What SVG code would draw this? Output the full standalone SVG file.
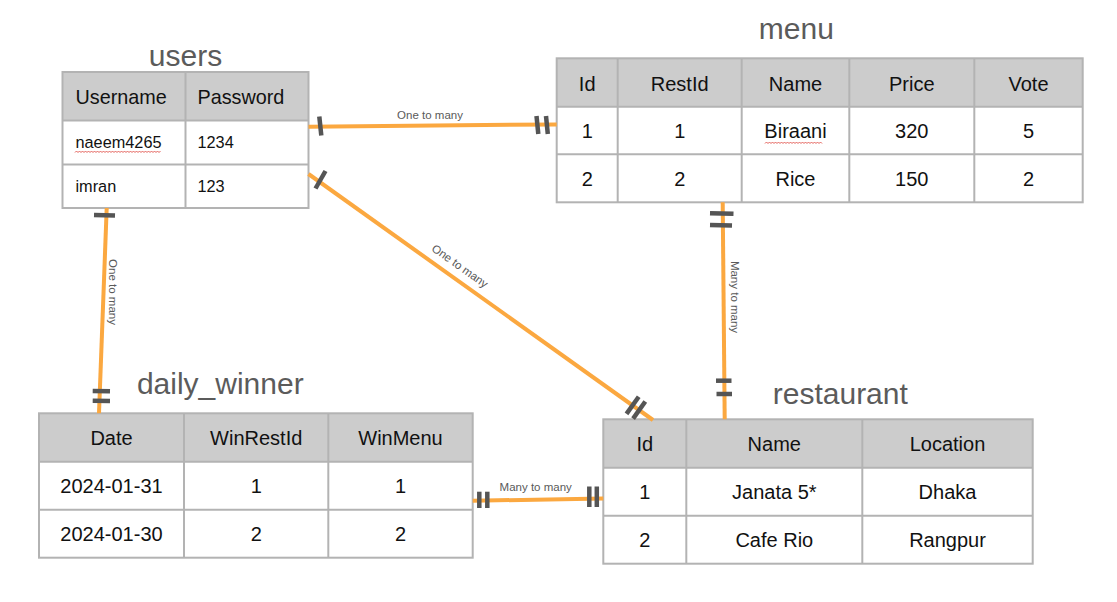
<svg xmlns="http://www.w3.org/2000/svg" width="1117" height="602" viewBox="0 0 1117 602">
<style>
.bg{fill:#ffffff}
.hdr{fill:#cccccc}
.frame{fill:none;stroke:#b3b3b3;stroke-width:2}
.grid{stroke:#b3b3b3;stroke-width:2}
.title{font-family:"Liberation Sans",Arial,sans-serif;font-size:30px;fill:#5b5b5b;text-anchor:middle}
.cell{font-family:"Liberation Sans",Arial,sans-serif;font-size:20px;fill:#111111;text-anchor:middle}
.cellL{font-family:"Liberation Sans",Arial,sans-serif;font-size:16.3px;fill:#111111}
.hdrL{font-family:"Liberation Sans",Arial,sans-serif;font-size:19.8px;fill:#111111}
.rel{fill:none;stroke:#fba840;stroke-width:4}
.tick{stroke:#555555;stroke-width:4.5}
.lbl{font-family:"Liberation Sans",Arial,sans-serif;font-size:11.5px;fill:#5a5a5a;text-anchor:middle}
.spell{fill:none;stroke:#e0504a;stroke-width:0.9}
</style>
<rect class="bg" x="0" y="0" width="1117" height="602"/>

<g id="users">
  <text class="title" x="185.5" y="66">users</text>
  <rect class="bg" x="62.5" y="72" width="246" height="136"/>
  <rect class="hdr" x="62.5" y="72" width="246" height="48.5"/>
  <line class="grid" x1="62.5" y1="120.5" x2="308.5" y2="120.5"/>
  <line class="grid" x1="62.5" y1="164.5" x2="308.5" y2="164.5"/>
  <line class="grid" x1="185.5" y1="72" x2="185.5" y2="208"/>
  <rect class="frame" x="62.5" y="72" width="246" height="136"/>
  <text class="hdrL" x="75.5" y="104">Username</text>
  <text class="hdrL" x="197.5" y="104">Password</text>
  <text class="cellL" x="75.5" y="148.3">naeem4265</text>
  <text class="cellL" x="197.5" y="148.3">1234</text>
  <text class="cellL" x="75.5" y="191.7">imran</text>
  <text class="cellL" x="197.5" y="191.7">123</text>
  <path class="spell" d="M75,152.5 l1.5,-1.5 l1.5,1.5 l1.5,-1.5 l1.5,1.5 l1.5,-1.5 l1.5,1.5 l1.5,-1.5 l1.5,1.5 l1.5,-1.5 l1.5,1.5 l1.5,-1.5 l1.5,1.5 l1.5,-1.5 l1.5,1.5 l1.5,-1.5 l1.5,1.5 l1.5,-1.5 l1.5,1.5 l1.5,-1.5 l1.5,1.5 l1.5,-1.5 l1.5,1.5 l1.5,-1.5 l1.5,1.5 l1.5,-1.5 l1.5,1.5 l1.5,-1.5 l1.5,1.5 l1.5,-1.5 l1.5,1.5 l1.5,-1.5 l1.5,1.5 l1.5,-1.5 l1.5,1.5 l1.5,-1.5 l1.5,1.5 l1.5,-1.5 l1.5,1.5 l1.5,-1.5 l1.5,1.5 l1.5,-1.5 l1.5,1.5 l1.5,-1.5 l1.5,1.5 l1.5,-1.5 l1.5,1.5 l1.5,-1.5 l1.5,1.5 l1.5,-1.5 l1.5,1.5 l1.5,-1.5 l1.5,1.5 l1.5,-1.5 l1.5,1.5 l1.5,-1.5 l1.5,1.5 l1.5,-1.5"/>
</g>

<g id="menu">
  <text class="title" x="796.3" y="39.3">menu</text>
  <rect class="bg" x="556.7" y="58.3" width="526" height="144"/>
  <rect class="hdr" x="556.7" y="58.3" width="526" height="48.4"/>
  <line class="grid" x1="556.7" y1="106.7" x2="1082.7" y2="106.7"/>
  <line class="grid" x1="556.7" y1="154.3" x2="1082.7" y2="154.3"/>
  <line class="grid" x1="617.7" y1="58.3" x2="617.7" y2="202.3"/>
  <line class="grid" x1="741.7" y1="58.3" x2="741.7" y2="202.3"/>
  <line class="grid" x1="849.3" y1="58.3" x2="849.3" y2="202.3"/>
  <line class="grid" x1="974.3" y1="58.3" x2="974.3" y2="202.3"/>
  <rect class="frame" x="556.7" y="58.3" width="526" height="144"/>
  <text class="cell" x="587.2" y="90.7">Id</text>
  <text class="cell" x="679.7" y="90.7">RestId</text>
  <text class="cell" x="795.5" y="90.7">Name</text>
  <text class="cell" x="911.8" y="90.7">Price</text>
  <text class="cell" x="1028.5" y="90.7">Vote</text>
  <text class="cell" x="587.2" y="138.3">1</text>
  <text class="cell" x="679.7" y="138.3">1</text>
  <text class="cell" x="795.5" y="138.3">Biraani</text>
  <text class="cell" x="911.8" y="138.3">320</text>
  <text class="cell" x="1028.5" y="138.3">5</text>
  <text class="cell" x="587.2" y="186">2</text>
  <text class="cell" x="679.7" y="186">2</text>
  <text class="cell" x="795.5" y="186">Rice</text>
  <text class="cell" x="911.8" y="186">150</text>
  <text class="cell" x="1028.5" y="186">2</text>
  <path class="spell" d="M765,143.5 l1.5,-1.5 l1.5,1.5 l1.5,-1.5 l1.5,1.5 l1.5,-1.5 l1.5,1.5 l1.5,-1.5 l1.5,1.5 l1.5,-1.5 l1.5,1.5 l1.5,-1.5 l1.5,1.5 l1.5,-1.5 l1.5,1.5 l1.5,-1.5 l1.5,1.5 l1.5,-1.5 l1.5,1.5 l1.5,-1.5 l1.5,1.5 l1.5,-1.5 l1.5,1.5 l1.5,-1.5 l1.5,1.5 l1.5,-1.5 l1.5,1.5 l1.5,-1.5 l1.5,1.5 l1.5,-1.5 l1.5,1.5 l1.5,-1.5 l1.5,1.5 l1.5,-1.5 l1.5,1.5 l1.5,-1.5 l1.5,1.5 l1.5,-1.5 l1.5,1.5"/>
</g>

<g id="daily_winner">
  <text class="title" x="220.3" y="394.3">daily_winner</text>
  <rect class="bg" x="39" y="413.3" width="433.7" height="144.4"/>
  <rect class="hdr" x="39" y="413.3" width="433.7" height="48.4"/>
  <line class="grid" x1="39" y1="461.7" x2="472.7" y2="461.7"/>
  <line class="grid" x1="39" y1="509.7" x2="472.7" y2="509.7"/>
  <line class="grid" x1="184" y1="413.3" x2="184" y2="557.7"/>
  <line class="grid" x1="328.3" y1="413.3" x2="328.3" y2="557.7"/>
  <rect class="frame" x="39" y="413.3" width="433.7" height="144.4"/>
  <text class="cell" x="111.5" y="445">Date</text>
  <text class="cell" x="256.2" y="445">WinRestId</text>
  <text class="cell" x="400.5" y="445">WinMenu</text>
  <text class="cell" x="111.5" y="492.7">2024-01-31</text>
  <text class="cell" x="256.2" y="492.7">1</text>
  <text class="cell" x="400.5" y="492.7">1</text>
  <text class="cell" x="111.5" y="540.7">2024-01-30</text>
  <text class="cell" x="256.2" y="540.7">2</text>
  <text class="cell" x="400.5" y="540.7">2</text>
</g>

<g id="restaurant">
  <text class="title" x="840.3" y="404">restaurant</text>
  <rect class="bg" x="603.3" y="419.3" width="429.4" height="144.4"/>
  <rect class="hdr" x="603.3" y="419.3" width="429.4" height="48.4"/>
  <line class="grid" x1="603.3" y1="467.7" x2="1032.7" y2="467.7"/>
  <line class="grid" x1="603.3" y1="515.7" x2="1032.7" y2="515.7"/>
  <line class="grid" x1="686.3" y1="419.3" x2="686.3" y2="563.7"/>
  <line class="grid" x1="862.3" y1="419.3" x2="862.3" y2="563.7"/>
  <rect class="frame" x="603.3" y="419.3" width="429.4" height="144.4"/>
  <text class="cell" x="644.8" y="451">Id</text>
  <text class="cell" x="774.3" y="451">Name</text>
  <text class="cell" x="947.5" y="451">Location</text>
  <text class="cell" x="644.8" y="499.3">1</text>
  <text class="cell" x="774.3" y="499.3">Janata 5*</text>
  <text class="cell" x="947.5" y="499.3">Dhaka</text>
  <text class="cell" x="644.8" y="546.7">2</text>
  <text class="cell" x="774.3" y="546.7">Cafe Rio</text>
  <text class="cell" x="947.5" y="546.7">Rangpur</text>
</g>

<g id="connectors">
  <!-- users -> menu -->
  <line class="rel" x1="308.5" y1="126.8" x2="556.7" y2="124.4"/>
  <line class="tick" x1="319.3" y1="116.5" x2="321.3" y2="135.5"/>
  <line class="tick" x1="536.5" y1="116" x2="538.3" y2="134"/>
  <line class="tick" x1="546" y1="116" x2="547.8" y2="134"/>
  <text class="lbl" x="430" y="118.5">One to many</text>

  <!-- users -> restaurant -->
  <line class="rel" x1="308.5" y1="174" x2="653" y2="420"/>
  <line class="tick" x1="325.5" y1="171" x2="315.5" y2="188.5"/>
  <line class="tick" x1="638.7" y1="396.8" x2="626.5" y2="413.9"/>
  <line class="tick" x1="645.3" y1="401.5" x2="633.1" y2="418.6"/>
  <text class="lbl" transform="translate(460,266) rotate(35.5)" x="0" y="4">One to many</text>

  <!-- users -> daily_winner -->
  <line class="rel" x1="106.7" y1="208" x2="99" y2="413.3"/>
  <line class="tick" x1="94" y1="215" x2="115" y2="215.5"/>
  <line class="tick" x1="92.7" y1="391" x2="110" y2="391.3"/>
  <line class="tick" x1="92.7" y1="400.7" x2="110" y2="401"/>
  <text class="lbl" transform="translate(112.5,292) rotate(90)" x="0" y="4">One to many</text>

  <!-- menu -> restaurant -->
  <line class="rel" x1="722.7" y1="202.3" x2="724.7" y2="419.3"/>
  <line class="tick" x1="710" y1="213.3" x2="733.5" y2="213.8"/>
  <line class="tick" x1="710" y1="225" x2="732" y2="225.5"/>
  <line class="tick" x1="716" y1="380.7" x2="731.5" y2="380.7"/>
  <line class="tick" x1="716.5" y1="394" x2="732" y2="394"/>
  <text class="lbl" transform="translate(735,297) rotate(90)" x="0" y="4">Many to many</text>

  <!-- daily_winner -> restaurant -->
  <line class="rel" x1="472.7" y1="500.8" x2="603.3" y2="498.4"/>
  <line class="tick" x1="479.3" y1="491.7" x2="479.3" y2="508"/>
  <line class="tick" x1="487.3" y1="491.7" x2="487.3" y2="508"/>
  <line class="tick" x1="589.3" y1="486.5" x2="589.3" y2="507"/>
  <line class="tick" x1="596.8" y1="486.5" x2="596.8" y2="507"/>
  <text class="lbl" x="535.7" y="490.5">Many to many</text>
</g>
</svg>
